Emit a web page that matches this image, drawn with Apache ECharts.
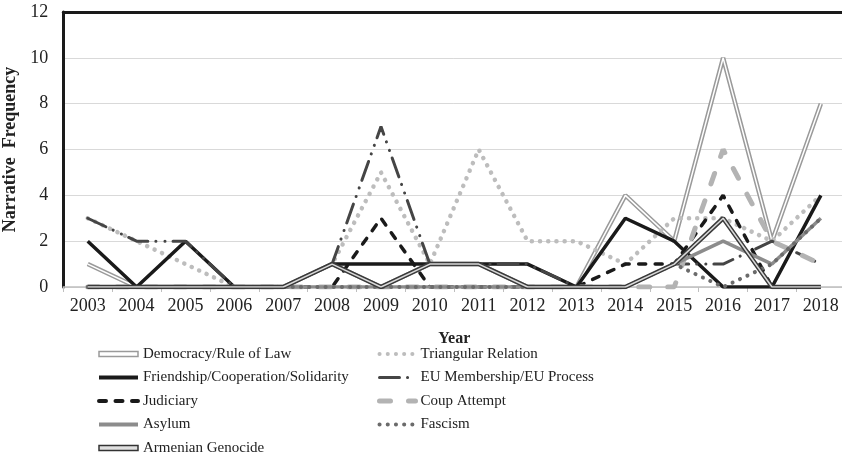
<!DOCTYPE html>
<html><head><meta charset="utf-8">
<script src="https://cdn.jsdelivr.net/npm/echarts@6/dist/echarts.min.js"></script>
<style>html,body{margin:0;padding:0;background:#fff}#c{width:842px;height:461px}</style>
</head><body><div id="c"></div><script>
const years = ['2003','2004','2005','2006','2007','2008','2009','2010','2011','2012','2013','2014','2015','2016','2017','2018'];
const democracy  = [1,0,0,0,0,1,0,1,1,0,0,4,2,10,2,8];
const triangular = [3,2,1,0,0,1,5,1,6,2,2,1,3,3,2,4];
const friendship = [2,0,2,0,0,1,1,1,1,1,0,3,2,0,0,4];
const euProcess  = [3,2,2,0,0,1,7,1,1,1,0,0,1,1,2,1];
const judiciary  = [0,0,0,0,0,0,3,0,0,0,0,1,1,4,0,0];
const coup       = [0,0,0,0,0,0,0,0,0,0,0,0,0,6,2,1];
const asylum     = [0,0,0,0,0,0,0,0,0,0,0,0,1,2,1,3];
const fascism    = [0,0,0,0,0,0,0,0,0,0,0,0,1,0,1,3];
const armenian   = [0,0,0,0,0,1,0,1,1,0,0,0,1,3,0,0];
const yMin = 0, yMax = 12, yStep = 2;

const N = {
  dem: 'Democracy/Rule of Law', tri: 'Triangular Relation', fri: 'Friendship/Cooperation/Solidarity',
  eu: 'EU Membership/EU Process', jud: 'Judiciary', coup: 'Coup Attempt', asy: 'Asylum',
  fas: 'Fascism', arm: 'Armenian Genocide'
};
const font = 'Liberation Serif, Times New Roman, serif';
function line(name, data, ls, z) {
  return { type: 'line', name, data, symbol: 'none', silent: true, z: z, lineStyle: ls, emphasis: { disabled: true } };
}
const chart = echarts.init(document.getElementById('c'));
const dblIcon = 'path://M0,0H40V5H0Z';
const legendCommon = {
  orient: 'vertical', top: 345, height: 140, padding: 0, itemHeight: 14, itemGap: 5.5,
  textStyle: { fontFamily: font, fontSize: 15, color: '#222', lineHeight: 18 },
  itemStyle: { opacity: 0 }, selectedMode: false
};
chart.setOption({
  animation: false,
  grid: { left: 63.3, top: 12, width: 782, height: 275, outerBoundsMode: 'none', containLabel: false },
  xAxis: [{
    type: 'category', data: years, boundaryGap: true,
    axisLine: { lineStyle: { color: '#bfbfbf', width: 1.5 } },
    axisTick: { show: true, length: 5, lineStyle: { color: '#bfbfbf' } },
    axisLabel: { fontFamily: font, fontSize: 18, color: '#222', margin: 10 },
    name: 'Year', nameLocation: 'middle', nameGap: 44,
    nameTextStyle: { fontFamily: font, fontSize: 16, fontWeight: 'bold', color: '#222' }
  }, {
    type: 'category', data: years, position: 'top',
    axisLine: { lineStyle: { color: '#1a1a1a', width: 3 } },
    axisTick: { show: false }, axisLabel: { show: false }
  }],
  yAxis: {
    type: 'value', min: yMin, max: yMax, interval: yStep,
    axisLine: { show: true, lineStyle: { color: '#1a1a1a', width: 3 } },
    axisTick: { show: false },
    splitLine: { lineStyle: { color: '#d9d9d9', width: 1 } },
    axisLabel: { fontFamily: font, fontSize: 18, color: '#222', margin: 15 },
    name: 'Narrative  Frequency', nameLocation: 'middle', nameGap: 36,
    nameTextStyle: { fontFamily: font, fontSize: 18, fontWeight: 'bold', color: '#222' }
  },
  legend: [Object.assign({}, legendCommon, {
    left: 97, itemWidth: 39,
    data: [
      { name: N.dem, icon: dblIcon, itemStyle: { opacity: 1, color: '#fff', borderColor: '#9a9a9a', borderWidth: 1.5 } },
      { name: N.fri, lineStyle: { width: 4 } },
      { name: N.jud, lineStyle: { width: 4 } },
      { name: N.asy, lineStyle: { width: 4 } },
      { name: N.arm, icon: dblIcon, itemStyle: { opacity: 1, color: '#e0e0e0', borderColor: '#333', borderWidth: 1.5 } }
    ]
  }), Object.assign({}, legendCommon, {
    left: 377, itemWidth: 36,
    data: [
      { name: N.tri, lineStyle: { width: 4 } },
      { name: N.eu, lineStyle: { width: 3 } },
      { name: N.coup, lineStyle: { width: 5 } },
      { name: N.fas, lineStyle: { width: 4 } }
    ]
  })],
  series: [
    line(N.dem, democracy, { color: '#9a9a9a', width: 4.5 }, 2),
    line(N.dem, democracy, { color: '#ffffff', width: 1.5 }, 2),
    line(N.tri, triangular, { color: '#bdbdbd', width: 4.5, type: [0.1, 8.1], cap: 'round' }, 2),
    line(N.fri, friendship, { color: '#1a1a1a', width: 3.5 }, 2),
    line(N.eu, euProcess, { color: '#454545', width: 3, type: [20, 8, 0.1, 9, 0.1, 8], cap: 'round' }, 2),
    line(N.jud, judiciary, { color: '#1a1a1a', width: 3.5, type: [7, 9.5], cap: 'round' }, 2),
    line(N.coup, coup, { color: '#b3b3b3', width: 5, type: [11, 18], cap: 'round' }, 2),
    line(N.asy, asylum, { color: '#8c8c8c', width: 3.5 }, 2),
    line(N.fas, fascism, { color: '#6b6b6b', width: 4, type: [0.1, 8.1], cap: 'round' }, 2),
    line(N.arm, armenian, { color: '#3a3a3a', width: 4.5 }, 2),
    line(N.arm, armenian, { color: '#d8d8d8', width: 1.5 }, 2)
  ]
});
</script></body></html>
